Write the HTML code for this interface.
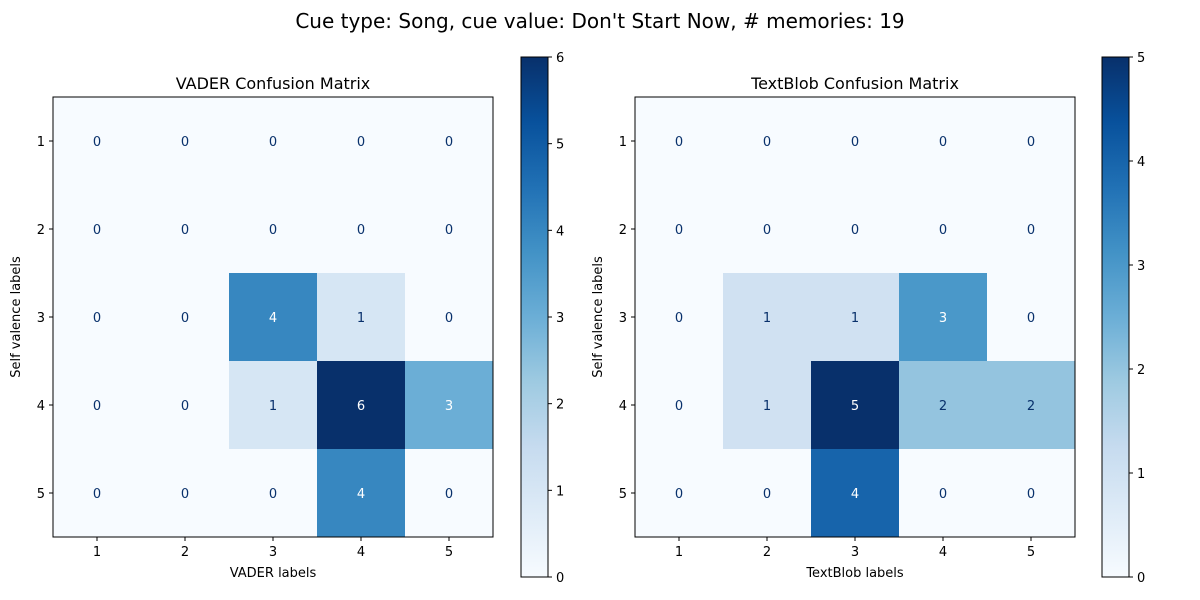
<!DOCTYPE html>
<html><head><meta charset="utf-8"><style>
body{margin:0;background:#fff;}
svg{display:block;font-family:"DejaVu Sans","Liberation Sans",sans-serif;}
</style></head><body>
<svg id="fig" width="1200" height="600">
<text x="600" y="28" text-anchor="middle" font-size="20">Cue type: Song, cue value: Don't Start Now, # memories: 19</text>
</svg>
<script>
const labels = ["1","2","3","4","5"];
const vaderValues = [[0,0,0,0,0],[0,0,0,0,0],[0,0,4,1,0],[0,0,1,6,3],[0,0,0,4,0]];
const textblobValues = [[0,0,0,0,0],[0,0,0,0,0],[0,1,1,3,0],[0,1,5,2,2],[0,0,4,0,0]];
const vaderTicks = [0,1,2,3,4,5,6];
const textblobTicks = [0,1,2,3,4,5];

const blues=["#f7fbff","#deebf7","#c6dbef","#9ecae1","#6baed6","#4292c6","#2171b5","#08519c","#08306b"];
function hex(h){return [1,3,5].map(i=>parseInt(h.substr(i,2),16));}
function cmap(t){t=Math.max(0,Math.min(1,t));const p=t*8,i=Math.min(7,Math.floor(p)),f=p-i;
 const a=hex(blues[i]),b=hex(blues[i+1]);return "rgb("+a.map((v,k)=>Math.round(v+(b[k]-v)*f)).join(",")+")";}
const NS="http://www.w3.org/2000/svg";const svg=document.getElementById("fig");
function el(tag,attrs,parent,text){const e=document.createElementNS(NS,tag);for(const k in attrs)e.setAttribute(k,attrs[k]);if(text!==undefined)e.textContent=text;(parent||svg).appendChild(e);return e;}

function panel(ox,cbx,title,xlabel,vals,ticks,prefix){
 const g=el("g",{});
 
 
 const size=440,n=labels.length,cs=size/n,oy=97;
 const maxV=ticks[ticks.length-1];
 const thresh=maxV/2;
 const cx=i=>ox+cs*(i+0.5), cy=i=>oy+cs*(i+0.5);
 for(let r=0;r<n;r++)for(let c=0;c<n;c++){
  const v=vals[r][c];
  const rc=el("rect",{x:ox+c*cs,y:oy+r*cs,width:cs+0.5,height:cs+0.5,fill:cmap(v/maxV)},g);
  
  
  const t=el("text",{x:cx(c),y:cy(r)+5,"text-anchor":"middle","font-size":"13",fill:v<thresh?"#08306b":"#ffffff"},g,String(v));
  
  
 }
 el("rect",{x:ox,y:oy,width:size,height:size,fill:"none",stroke:"#000","stroke-width":1},g);
 for(let i=0;i<n;i++){
  el("line",{x1:cx(i),x2:cx(i),y1:oy+size,y2:oy+size+4,stroke:"#000"},g);
  const xt=el("text",{x:cx(i),y:oy+size+19,"text-anchor":"middle","font-size":"13"},g,labels[i]);
  
  
  el("line",{x1:ox-4,x2:ox,y1:cy(i),y2:cy(i),stroke:"#000"},g);
  const yt=el("text",{x:ox-8,y:cy(i)+5,"text-anchor":"end","font-size":"13"},g,labels[i]);
  
  
 }
 const tt=el("text",{x:ox+size/2,y:oy-8,"text-anchor":"middle","font-size":"16"},g,title);
 
 
 const xl=el("text",{x:ox+size/2,y:oy+size+40,"text-anchor":"middle","font-size":"13"},g,xlabel);
 
 
 const yl=el("text",{x:0,y:0,"text-anchor":"middle","font-size":"13",transform:"translate("+(ox-33)+","+(oy+size/2)+") rotate(-90)"},g,"Self valence labels");
 
 
 // colorbar
 const cby=57,cbh=520,cbw=27;
 const gid=prefix+"grad";
 const defs=el("defs",{},g);const lg=el("linearGradient",{id:gid,x1:0,y1:1,x2:0,y2:0},defs);
 blues.forEach((b,i)=>el("stop",{offset:(i/8),"stop-color":b},lg));
 const cb=el("rect",{x:cbx,y:cby,width:cbw,height:cbh,fill:"url(#"+gid+")",stroke:"#000","stroke-width":1},g);
 
 
 ticks.forEach(t=>{const y=cby+cbh-(t/maxV)*cbh;
  el("line",{x1:cbx+cbw,x2:cbx+cbw+4,y1:y,y2:y,stroke:"#000"},g);
  const ct=el("text",{x:cbx+cbw+8,y:y+5,"font-size":"13"},g,String(t));
  
  
 });
}
panel(53,521,"VADER Confusion Matrix","VADER labels",vaderValues,vaderTicks,"vader");
panel(635,1102,"TextBlob Confusion Matrix","TextBlob labels",textblobValues,textblobTicks,"textblob");
</script>
</body></html>
